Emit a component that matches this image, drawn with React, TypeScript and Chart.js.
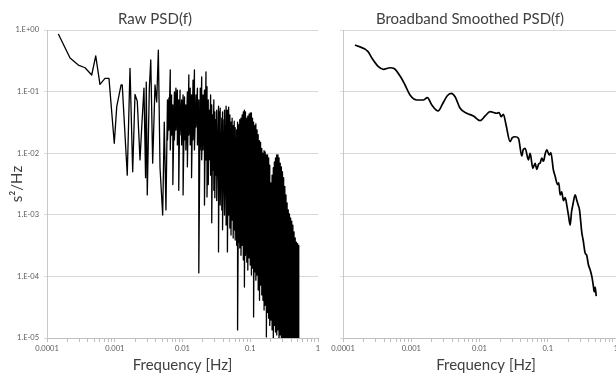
import React, { useEffect, useRef } from "react";
import { Chart, registerables } from "chart.js";

Chart.register(...registerables);

// ---------- Text ----------
const panelTitles = ["Raw PSD(f)", "Broadband Smoothed PSD(f)"];
const xAxisTitle = "Frequency [Hz]";
const yAxisTitle = "s\u00B2/Hz";

// ---------- Axis ticks ----------
const xMajorTicks = [0.0001, 0.001, 0.01, 0.1, 1];
const xTickLabels = ["0.0001", "0.001", "0.01", "0.1", "1"];
const xMinorMultipliers = [2, 3, 4, 5, 6, 7, 8, 9];
const yMajorTicks = [1, 0.1, 0.01, 0.001, 0.0001, 0.00001];
const yTickLabels = ["1.E+00", "1.E-01", "1.E-02", "1.E-03", "1.E-04", "1.E-05"];

// ---------- Raw PSD: low-frequency individual points ----------
const rawSparseFreq = [
  0.000147, 0.000219, 0.00029, 0.000364, 0.000457, 0.000524, 0.000605, 0.000718, 0.000822, 0.000984,
  0.00107, 0.00124, 0.00129, 0.00153, 0.00168, 0.00184, 0.00199, 0.00215, 0.00236, 0.00252,
  0.0027, 0.00285, 0.00292, 0.00302, 0.00324, 0.0034, 0.00363, 0.00393, 0.00416, 0.0044,
  0.00466, 0.0051, 0.00538, 0.0057,
];
const rawSparsePsd = [
  0.86, 0.35, 0.27, 0.244, 0.186, 0.38, 0.131, 0.164, 0.164, 0.0145,
  0.057, 0.128, 0.128, 0.0044, 0.239, 0.005, 0.09, 0.07, 0.0078, 0.031,
  0.114, 0.004, 0.143, 0.0021, 0.114, 0.326, 0.0069, 0.128, 0.068, 0.47,
  0.00575, 0.00099, 0.032, 0.0012,
];

// ---------- Raw PSD: mid band (peak / trough at each frequency) ----------
const rawMidFreq = [
  0.006, 0.0063, 0.0066, 0.0069, 0.0072, 0.0076, 0.008, 0.0084, 0.0088, 0.0092,
  0.0097, 0.0102, 0.0107, 0.0112, 0.0118, 0.0124, 0.013, 0.0136, 0.0143, 0.015,
  0.0158, 0.0166, 0.0174, 0.0183, 0.0192, 0.0201, 0.0211, 0.0222,
];
const rawMidHigh = [
  0.073, 0.079, 0.224, 0.088, 0.061, 0.099, 0.114, 0.106, 0.073, 0.106,
  0.073, 0.088, 0.082, 0.061, 0.099, 0.186, 0.114, 0.088, 0.154, 0.224,
  0.088, 0.114, 0.073, 0.114, 0.173, 0.088, 0.106, 0.208,
];
const rawMidLow = [
  0.0164, 0.0238, 0.0113, 0.0197, 0.0031, 0.0164, 0.0238, 0.0136, 0.0025, 0.0197,
  0.0136, 0.0021, 0.0164, 0.0113, 0.006, 0.0197, 0.0136, 0.004, 0.0164, 0.0113,
  0.0266, 0.0136, 0.000114, 0.0113, 0.0078, 0.0113, 0.00144, 0.0078,
];

// ---------- Raw PSD: dense band (peak / trough at each frequency) ----------
const rawDenseFreq = [
  0.023, 0.024, 0.025, 0.026, 0.027, 0.028, 0.029, 0.03, 0.031, 0.032,
  0.034, 0.035, 0.036, 0.038, 0.039, 0.041, 0.042, 0.044, 0.046, 0.048,
  0.05, 0.052, 0.054, 0.056, 0.058, 0.06, 0.063, 0.065, 0.068, 0.07,
  0.073, 0.076, 0.079, 0.082, 0.085, 0.089, 0.092, 0.096, 0.1, 0.104,
  0.108, 0.112, 0.117, 0.121, 0.126, 0.131, 0.137, 0.142, 0.148, 0.154,
  0.16, 0.166, 0.173, 0.18, 0.187, 0.194, 0.202, 0.21, 0.219, 0.227,
  0.236, 0.246, 0.256, 0.266, 0.277, 0.288, 0.299, 0.311, 0.324, 0.337,
  0.35, 0.364, 0.379, 0.394, 0.41, 0.426, 0.443, 0.461, 0.48, 0.5,
  0.52,
];
const rawDenseHigh = [
  0.12, 0.073, 0.05, 0.088, 0.061, 0.042, 0.073, 0.047, 0.035, 0.05,
  0.058, 0.047, 0.054, 0.037, 0.047, 0.035, 0.05, 0.058, 0.05, 0.056,
  0.042, 0.032, 0.037, 0.028, 0.033, 0.026, 0.024, 0.032, 0.029, 0.035,
  0.037, 0.042, 0.047, 0.05, 0.047, 0.037, 0.04, 0.043, 0.045, 0.045,
  0.037, 0.032, 0.028, 0.03, 0.024, 0.02, 0.016, 0.015, 0.012, 0.01,
  0.011, 0.0105, 0.0094, 0.0094, 0.0084, 0.0064, 0.0033, 0.0044, 0.0058, 0.0072,
  0.0084, 0.0094, 0.0094, 0.0084, 0.0069, 0.006, 0.005, 0.004, 0.0029, 0.0021,
  0.00156, 0.0012, 0.00103, 0.00089, 0.00079, 0.00068, 0.00053, 0.00042, 0.00036, 0.00034,
  0.00032,
];
const rawDenseLow = [
  0.00195, 0.0031, 0.0078, 0.0044, 0.00074, 0.0053, 0.0025, 0.0019, 0.0044, 0.0017,
  0.00025, 0.0025, 0.00144, 0.0012, 0.00057, 0.00144, 0.00099, 0.00068, 0.00025, 0.00099,
  0.00061, 0.00047, 0.00082, 0.00042, 0.00057, 0.00039, 0.00032, 0.0000135, 0.00036, 0.00029,
  0.00022, 0.00032, 0.000185, 0.000067, 0.00022, 0.00017, 0.000127, 0.0002, 0.000153, 0.000105,
  0.000137, 0.000022, 0.000118, 0.000087, 0.000105, 0.00006, 0.000041, 0.000072, 0.00005, 0.000041,
  0.0000285, 0.000034, 0.0000104, 0.000026, 0.000021, 0.000016, 0.0000196, 0.0000135, 0.0000077, 0.000016,
  0.0000125, 0.0000112, 0.0000135, 0.00001, 0.0000112, 0.000004, 0.000003, 0.000005, 0.000003, 0.000004,
  0.000003, 0.000005, 0.000003, 0.000004, 0.000003, 0.000005, 0.000003, 0.000004, 0.000003, 0.000005,
  0.000003,
];

// ---------- Broadband smoothed PSD ----------
const smoothFreq = [
  0.00015, 0.000233, 0.000266, 0.00033, 0.00039, 0.000489, 0.00056, 0.000686, 0.000811, 0.000959,
  0.00121, 0.0015, 0.00172, 0.002, 0.00247, 0.00292, 0.00335, 0.00384, 0.00439, 0.0052,
  0.00652, 0.00815, 0.0102, 0.0121, 0.0143, 0.018, 0.0194, 0.0207, 0.0224, 0.0245,
  0.0281, 0.0301, 0.0333, 0.0372, 0.0417, 0.0436, 0.0467, 0.0521, 0.0552, 0.0605,
  0.0653, 0.0692, 0.0736, 0.0775, 0.0818, 0.0865, 0.0916, 0.097, 0.105, 0.111,
  0.121, 0.128, 0.139, 0.145, 0.152, 0.16, 0.17, 0.18, 0.19, 0.201,
  0.213, 0.223, 0.233, 0.252, 0.267, 0.279, 0.292, 0.316, 0.33, 0.353,
  0.372, 0.395, 0.419, 0.444, 0.464, 0.479, 0.495, 0.513,
];
const smoothPsd = [
  0.57, 0.445, 0.347, 0.254, 0.23, 0.244, 0.237, 0.179, 0.128, 0.088,
  0.073, 0.073, 0.0796, 0.0606, 0.0484, 0.0653, 0.0849, 0.0938, 0.0826, 0.0536,
  0.0445, 0.0402, 0.0337, 0.0402, 0.0472, 0.0445, 0.0458, 0.0392, 0.0428, 0.0287,
  0.0154, 0.0177, 0.0185, 0.0175, 0.009, 0.0113, 0.012, 0.00776, 0.00996, 0.00569,
  0.00686, 0.00548, 0.00668, 0.00694, 0.00836, 0.0074, 0.0097, 0.0113, 0.0094, 0.0102,
  0.00534, 0.00427, 0.0031, 0.0033, 0.0021, 0.00235, 0.0017, 0.0019, 0.00144, 0.00099,
  0.00068, 0.00111, 0.00144, 0.0021, 0.0017, 0.00144, 0.0012, 0.000507, 0.00039, 0.00024,
  0.00022, 0.000153, 0.000127, 0.000098, 0.000072, 0.000056, 0.000067, 0.000048,
];

// ---------- Built tables ----------
const xTickValues: number[] = [];
xMajorTicks.forEach((t, i) => {
  xTickValues.push(t);
  if (i < xMajorTicks.length - 1) xMinorMultipliers.forEach((m) => xTickValues.push(t * m));
});

const rawPoints: { x: number; y: number }[] = [];
rawSparseFreq.forEach((f, i) => rawPoints.push({ x: f, y: rawSparsePsd[i] }));
rawMidFreq.forEach((f, i) => {
  rawPoints.push({ x: f, y: rawMidHigh[i] });
  rawPoints.push({ x: f, y: rawMidLow[i] });
});
rawDenseFreq.forEach((f, i) => {
  rawPoints.push({ x: f, y: rawDenseHigh[i] });
  rawPoints.push({ x: f, y: rawDenseLow[i] });
});
const smoothPoints = smoothFreq.map((f, i) => ({ x: f, y: smoothPsd[i] }));

const FONT = "Lato, 'Open Sans', 'DejaVu Sans', sans-serif";
const TEXT_COLOR = "#404040";
const TICK_COLOR = "#595959";

const near = (a: number, b: number) => Math.abs(a - b) / b < 1e-6;
const xLabel = (v: number) => {
  const i = xMajorTicks.findIndex((t) => near(v, t));
  return i >= 0 ? xTickLabels[i] : "";
};
const yLabel = (v: number) => {
  const i = yMajorTicks.findIndex((t) => near(v, t));
  return i >= 0 ? yTickLabels[i] : "";
};

const textPlugin = {
  id: "panelTexts",
  afterDraw(chart: any, _args: any, opts: any) {
    const ctx = chart.ctx;
    ctx.save();
    (opts.items || []).forEach((it: any) => {
      ctx.font = `${it.size}px ${FONT}`;
      ctx.fillStyle = TEXT_COLOR;
      ctx.textAlign = "center";
      ctx.textBaseline = "middle";
      ctx.fillText(it.text, it.x, it.y);
    });
    ctx.restore();
  },
};

function makeScales(showY: boolean, showXTitle: boolean) {
  return {
    x: {
      type: "logarithmic",
      min: 0.0001,
      max: 1,
      afterBuildTicks: (s: any) => {
        s.ticks = xTickValues.map((v) => ({ value: v }));
      },
      afterFit: (s: any) => {
        s.height = 36;
        s.paddingLeft = 0;
        s.paddingRight = 0;
      },
      ticks: {
        autoSkip: false,
        maxRotation: 0,
        minRotation: 0,
        padding: 2,
        color: TICK_COLOR,
        font: { family: FONT, size: 7.5 },
        callback: (v: any) => xLabel(Number(v)),
      },
      grid: { display: true, drawOnChartArea: false, drawTicks: true, tickLength: 4, color: "#bfbfbf" },
      border: { display: true, color: "#bfbfbf" },
      title: {
        display: showXTitle,
        text: xAxisTitle,
        color: TEXT_COLOR,
        font: { family: FONT, size: 15 },
        padding: { top: 0, bottom: 0 },
      },
    },
    y: {
      type: "logarithmic",
      min: 0.00001,
      max: 1,
      afterBuildTicks: (s: any) => {
        s.ticks = yMajorTicks.map((v) => ({ value: v }));
      },
      afterFit: (s: any) => {
        s.width = 47;
        s.paddingTop = 0;
        s.paddingBottom = 0;
      },
      ticks: {
        display: showY,
        autoSkip: false,
        padding: 5,
        color: TICK_COLOR,
        font: { family: FONT, size: 7.5 },
        callback: (v: any) => yLabel(Number(v)),
      },
      grid: { color: "#d9d9d9", drawTicks: true, tickLength: 3 },
      border: { display: true, color: "#c8c8c8" },
      title: {
        display: showY,
        text: yAxisTitle,
        color: TEXT_COLOR,
        font: { family: FONT, size: 15 },
        padding: { top: 8, bottom: 0 },
      },
    },
  };
}

function rawConfig(): any {
  return {
    type: "line",
    data: {
      datasets: [
        {
          label: panelTitles[0],
          data: rawPoints,
          borderColor: "#000000",
          borderWidth: 1.3,
          pointRadius: 0,
          tension: 0,
          borderJoinStyle: "round",
        },
      ],
    },
    options: {
      animation: false,
      responsive: false,
      devicePixelRatio: 1,
      layout: { padding: { top: 30, right: 2, bottom: 0, left: 0 } },
      scales: makeScales(true, true),
      plugins: {
        legend: { display: false },
        tooltip: { enabled: false },
        panelTexts: { items: [{ text: panelTitles[0], x: 155, y: 19, size: 15 }] },
      },
    },
    plugins: [textPlugin],
  };
}

function smoothConfig(): any {
  return {
    type: "line",
    data: {
      datasets: [
        {
          label: panelTitles[1],
          data: smoothPoints,
          borderColor: "#000000",
          borderWidth: 1.7,
          pointRadius: 0,
          cubicInterpolationMode: "monotone",
          borderJoinStyle: "round",
        },
      ],
    },
    options: {
      animation: false,
      responsive: false,
      devicePixelRatio: 1,
      layout: { padding: { top: 30, right: 0, bottom: 0, left: 0 } },
      scales: makeScales(false, false),
      plugins: {
        legend: { display: false },
        tooltip: { enabled: false },
        panelTexts: {
          items: [
            { text: panelTitles[1], x: 174, y: 19, size: 15 },
            { text: xAxisTitle, x: 190, y: 365, size: 15 },
          ],
        },
      },
    },
    plugins: [textPlugin],
  };
}

function Panel({ left, makeConfig }: { left: number; makeConfig: () => any }) {
  const ref = useRef<HTMLCanvasElement | null>(null);
  useEffect(() => {
    if (!ref.current) return;
    const chart = new Chart(ref.current, makeConfig());
    return () => chart.destroy();
  }, []);
  return (
    <canvas
      ref={ref}
      width={320}
      height={374}
      style={{ position: "absolute", left, top: 0, width: 320, height: 374 }}
    />
  );
}

export default function App() {
  return (
    <div
      style={{
        position: "fixed",
        left: 0,
        top: 0,
        width: 616,
        height: 374,
        background: "#ffffff",
        overflow: "hidden",
      }}
    >
      <Panel left={0} makeConfig={rawConfig} />
      <Panel left={296} makeConfig={smoothConfig} />
    </div>
  );
}
